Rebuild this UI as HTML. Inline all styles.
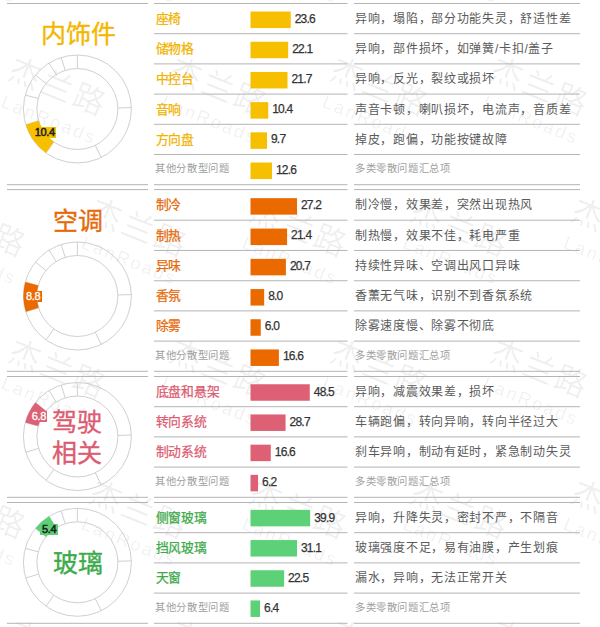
<!DOCTYPE html>
<html lang="zh-CN"><head><meta charset="utf-8"><style>
html,body{margin:0;padding:0;background:#fff;width:600px;height:627px;overflow:hidden}
body{position:relative;font-family:"Liberation Sans",sans-serif}
svg{position:absolute;left:0;top:0}
div{position:absolute;white-space:nowrap}
.n{left:155.8px;font-size:12.8px;letter-spacing:-0.3px;line-height:18px;-webkit-text-stroke:0.25px currentColor}
.d{left:355px;font-size:12px;letter-spacing:0.72px;line-height:18px;color:#5a5a5a}
.s{font-size:10.3px;letter-spacing:0.6px;line-height:16px;color:#a0a0a0;-webkit-text-stroke:0}
.v{font-size:12px;line-height:14px;color:#333;-webkit-text-stroke:0.25px #333;letter-spacing:-0.8px}
.lb{font-size:11px;line-height:11.5px;text-align:center;letter-spacing:-0.3px;-webkit-text-stroke:0.3px currentColor}
.t{font-size:25px;letter-spacing:0px;line-height:30.5px;-webkit-text-stroke:0.35px currentColor}
</style></head><body>
<svg width="600" height="627" viewBox="0 0 600 627"><g fill="#000" fill-opacity="0.068"><g transform="translate(-54.3,-66.8) rotate(22)"><text x="-16.5" y="11.5" font-size="32" letter-spacing="2.5">杰兰路</text><text x="-12" y="40" font-size="18" letter-spacing="2.4" font-family="Liberation Sans">LanRoads</text></g><g transform="translate(106.3,-66.8) rotate(22)"><text x="-16.5" y="11.5" font-size="32" letter-spacing="2.5">杰兰路</text><text x="-12" y="40" font-size="18" letter-spacing="2.4" font-family="Liberation Sans">LanRoads</text></g><g transform="translate(267.0,-66.8) rotate(22)"><text x="-16.5" y="11.5" font-size="32" letter-spacing="2.5">杰兰路</text><text x="-12" y="40" font-size="18" letter-spacing="2.4" font-family="Liberation Sans">LanRoads</text></g><g transform="translate(427.8,-66.8) rotate(22)"><text x="-16.5" y="11.5" font-size="32" letter-spacing="2.5">杰兰路</text><text x="-12" y="40" font-size="18" letter-spacing="2.4" font-family="Liberation Sans">LanRoads</text></g><g transform="translate(588.4,-66.8) rotate(22)"><text x="-16.5" y="11.5" font-size="32" letter-spacing="2.5">杰兰路</text><text x="-12" y="40" font-size="18" letter-spacing="2.4" font-family="Liberation Sans">LanRoads</text></g><g transform="translate(26.0,74.0) rotate(22)"><text x="-16.5" y="11.5" font-size="32" letter-spacing="2.5">杰兰路</text><text x="-12" y="40" font-size="18" letter-spacing="2.4" font-family="Liberation Sans">LanRoads</text></g><g transform="translate(186.7,74.0) rotate(22)"><text x="-16.5" y="11.5" font-size="32" letter-spacing="2.5">杰兰路</text><text x="-12" y="40" font-size="18" letter-spacing="2.4" font-family="Liberation Sans">LanRoads</text></g><g transform="translate(347.4,74.0) rotate(22)"><text x="-16.5" y="11.5" font-size="32" letter-spacing="2.5">杰兰路</text><text x="-12" y="40" font-size="18" letter-spacing="2.4" font-family="Liberation Sans">LanRoads</text></g><g transform="translate(508.1,74.0) rotate(22)"><text x="-16.5" y="11.5" font-size="32" letter-spacing="2.5">杰兰路</text><text x="-12" y="40" font-size="18" letter-spacing="2.4" font-family="Liberation Sans">LanRoads</text></g><g transform="translate(-54.3,214.8) rotate(22)"><text x="-16.5" y="11.5" font-size="32" letter-spacing="2.5">杰兰路</text><text x="-12" y="40" font-size="18" letter-spacing="2.4" font-family="Liberation Sans">LanRoads</text></g><g transform="translate(106.3,214.8) rotate(22)"><text x="-16.5" y="11.5" font-size="32" letter-spacing="2.5">杰兰路</text><text x="-12" y="40" font-size="18" letter-spacing="2.4" font-family="Liberation Sans">LanRoads</text></g><g transform="translate(267.0,214.8) rotate(22)"><text x="-16.5" y="11.5" font-size="32" letter-spacing="2.5">杰兰路</text><text x="-12" y="40" font-size="18" letter-spacing="2.4" font-family="Liberation Sans">LanRoads</text></g><g transform="translate(427.8,214.8) rotate(22)"><text x="-16.5" y="11.5" font-size="32" letter-spacing="2.5">杰兰路</text><text x="-12" y="40" font-size="18" letter-spacing="2.4" font-family="Liberation Sans">LanRoads</text></g><g transform="translate(588.4,214.8) rotate(22)"><text x="-16.5" y="11.5" font-size="32" letter-spacing="2.5">杰兰路</text><text x="-12" y="40" font-size="18" letter-spacing="2.4" font-family="Liberation Sans">LanRoads</text></g><g transform="translate(26.0,355.5) rotate(22)"><text x="-16.5" y="11.5" font-size="32" letter-spacing="2.5">杰兰路</text><text x="-12" y="40" font-size="18" letter-spacing="2.4" font-family="Liberation Sans">LanRoads</text></g><g transform="translate(186.7,355.5) rotate(22)"><text x="-16.5" y="11.5" font-size="32" letter-spacing="2.5">杰兰路</text><text x="-12" y="40" font-size="18" letter-spacing="2.4" font-family="Liberation Sans">LanRoads</text></g><g transform="translate(347.4,355.5) rotate(22)"><text x="-16.5" y="11.5" font-size="32" letter-spacing="2.5">杰兰路</text><text x="-12" y="40" font-size="18" letter-spacing="2.4" font-family="Liberation Sans">LanRoads</text></g><g transform="translate(508.1,355.5) rotate(22)"><text x="-16.5" y="11.5" font-size="32" letter-spacing="2.5">杰兰路</text><text x="-12" y="40" font-size="18" letter-spacing="2.4" font-family="Liberation Sans">LanRoads</text></g><g transform="translate(-54.3,496.2) rotate(22)"><text x="-16.5" y="11.5" font-size="32" letter-spacing="2.5">杰兰路</text><text x="-12" y="40" font-size="18" letter-spacing="2.4" font-family="Liberation Sans">LanRoads</text></g><g transform="translate(106.3,496.2) rotate(22)"><text x="-16.5" y="11.5" font-size="32" letter-spacing="2.5">杰兰路</text><text x="-12" y="40" font-size="18" letter-spacing="2.4" font-family="Liberation Sans">LanRoads</text></g><g transform="translate(267.0,496.2) rotate(22)"><text x="-16.5" y="11.5" font-size="32" letter-spacing="2.5">杰兰路</text><text x="-12" y="40" font-size="18" letter-spacing="2.4" font-family="Liberation Sans">LanRoads</text></g><g transform="translate(427.8,496.2) rotate(22)"><text x="-16.5" y="11.5" font-size="32" letter-spacing="2.5">杰兰路</text><text x="-12" y="40" font-size="18" letter-spacing="2.4" font-family="Liberation Sans">LanRoads</text></g><g transform="translate(588.4,496.2) rotate(22)"><text x="-16.5" y="11.5" font-size="32" letter-spacing="2.5">杰兰路</text><text x="-12" y="40" font-size="18" letter-spacing="2.4" font-family="Liberation Sans">LanRoads</text></g><g transform="translate(26.0,637.0) rotate(22)"><text x="-16.5" y="11.5" font-size="32" letter-spacing="2.5">杰兰路</text><text x="-12" y="40" font-size="18" letter-spacing="2.4" font-family="Liberation Sans">LanRoads</text></g><g transform="translate(186.7,637.0) rotate(22)"><text x="-16.5" y="11.5" font-size="32" letter-spacing="2.5">杰兰路</text><text x="-12" y="40" font-size="18" letter-spacing="2.4" font-family="Liberation Sans">LanRoads</text></g><g transform="translate(347.4,637.0) rotate(22)"><text x="-16.5" y="11.5" font-size="32" letter-spacing="2.5">杰兰路</text><text x="-12" y="40" font-size="18" letter-spacing="2.4" font-family="Liberation Sans">LanRoads</text></g><g transform="translate(508.1,637.0) rotate(22)"><text x="-16.5" y="11.5" font-size="32" letter-spacing="2.5">杰兰路</text><text x="-12" y="40" font-size="18" letter-spacing="2.4" font-family="Liberation Sans">LanRoads</text></g></g><line x1="7" y1="3.50" x2="148" y2="3.50" stroke="#b4b4b4" stroke-width="1"/><line x1="154" y1="3.50" x2="347.5" y2="3.50" stroke="#b4b4b4" stroke-width="1"/><line x1="354" y1="3.50" x2="580" y2="3.50" stroke="#b4b4b4" stroke-width="1"/><line x1="154" y1="33.70" x2="347.5" y2="33.70" stroke="#b4b4b4" stroke-width="1"/><line x1="354" y1="33.70" x2="580" y2="33.70" stroke="#b4b4b4" stroke-width="1"/><line x1="154" y1="63.90" x2="347.5" y2="63.90" stroke="#b4b4b4" stroke-width="1"/><line x1="354" y1="63.90" x2="580" y2="63.90" stroke="#b4b4b4" stroke-width="1"/><line x1="154" y1="94.10" x2="347.5" y2="94.10" stroke="#b4b4b4" stroke-width="1"/><line x1="354" y1="94.10" x2="580" y2="94.10" stroke="#b4b4b4" stroke-width="1"/><line x1="154" y1="124.30" x2="347.5" y2="124.30" stroke="#b4b4b4" stroke-width="1"/><line x1="354" y1="124.30" x2="580" y2="124.30" stroke="#b4b4b4" stroke-width="1"/><line x1="154" y1="154.50" x2="347.5" y2="154.50" stroke="#b4b4b4" stroke-width="1"/><line x1="354" y1="154.50" x2="580" y2="154.50" stroke="#b4b4b4" stroke-width="1"/><line x1="7" y1="184.70" x2="148" y2="184.70" stroke="#b4b4b4" stroke-width="1"/><line x1="154" y1="184.70" x2="347.5" y2="184.70" stroke="#b4b4b4" stroke-width="1"/><line x1="354" y1="184.70" x2="580" y2="184.70" stroke="#b4b4b4" stroke-width="1"/><rect x="250.5" y="11.55" width="40.24" height="16.5" fill="#F6BF00"/><rect x="250.5" y="41.75" width="37.68" height="16.5" fill="#F6BF00"/><rect x="250.5" y="71.95" width="37.00" height="16.5" fill="#F6BF00"/><rect x="250.5" y="102.15" width="17.73" height="16.5" fill="#F6BF00"/><rect x="250.5" y="132.35" width="16.54" height="16.5" fill="#F6BF00"/><rect x="250.5" y="162.55" width="21.48" height="16.5" fill="#F6BF00"/><circle cx="77.4" cy="109.00" r="54" fill="none" stroke="#d0d0d0" stroke-width="1"/><circle cx="77.4" cy="109.00" r="40.5" fill="none" stroke="#d0d0d0" stroke-width="1"/><line x1="77.40" y1="68.50" x2="77.40" y2="55.00" stroke="#d0d0d0" stroke-width="1"/><line x1="117.89" y1="107.94" x2="131.38" y2="107.59" stroke="#d0d0d0" stroke-width="1"/><line x1="95.28" y1="145.34" x2="101.24" y2="157.45" stroke="#d0d0d0" stroke-width="1"/><line x1="53.82" y1="141.93" x2="45.97" y2="152.91" stroke="#d0d0d0" stroke-width="1"/><line x1="38.67" y1="120.84" x2="25.76" y2="124.79" stroke="#d0d0d0" stroke-width="1"/><line x1="38.28" y1="98.52" x2="25.24" y2="95.02" stroke="#d0d0d0" stroke-width="1"/><line x1="45.93" y1="83.51" x2="35.43" y2="75.02" stroke="#d0d0d0" stroke-width="1"/><line x1="56.18" y1="74.51" x2="49.10" y2="63.01" stroke="#d0d0d0" stroke-width="1"/><line x1="65.22" y1="70.37" x2="61.16" y2="57.50" stroke="#d0d0d0" stroke-width="1"/><path d="M45.97,152.91 A54,54 0 0 1 25.76,124.79 L38.67,120.84 A40.5,40.5 0 0 0 53.82,141.93 Z" fill="#F6BF00"/><line x1="7" y1="189.60" x2="148" y2="189.60" stroke="#b4b4b4" stroke-width="1"/><line x1="154" y1="189.60" x2="347.5" y2="189.60" stroke="#b4b4b4" stroke-width="1"/><line x1="354" y1="189.60" x2="580" y2="189.60" stroke="#b4b4b4" stroke-width="1"/><line x1="154" y1="220.20" x2="347.5" y2="220.20" stroke="#b4b4b4" stroke-width="1"/><line x1="354" y1="220.20" x2="580" y2="220.20" stroke="#b4b4b4" stroke-width="1"/><line x1="154" y1="250.45" x2="347.5" y2="250.45" stroke="#b4b4b4" stroke-width="1"/><line x1="354" y1="250.45" x2="580" y2="250.45" stroke="#b4b4b4" stroke-width="1"/><line x1="154" y1="280.75" x2="347.5" y2="280.75" stroke="#b4b4b4" stroke-width="1"/><line x1="354" y1="280.75" x2="580" y2="280.75" stroke="#b4b4b4" stroke-width="1"/><line x1="154" y1="310.90" x2="347.5" y2="310.90" stroke="#b4b4b4" stroke-width="1"/><line x1="354" y1="310.90" x2="580" y2="310.90" stroke="#b4b4b4" stroke-width="1"/><line x1="154" y1="341.10" x2="347.5" y2="341.10" stroke="#b4b4b4" stroke-width="1"/><line x1="354" y1="341.10" x2="580" y2="341.10" stroke="#b4b4b4" stroke-width="1"/><line x1="7" y1="371.30" x2="148" y2="371.30" stroke="#b4b4b4" stroke-width="1"/><line x1="154" y1="371.30" x2="347.5" y2="371.30" stroke="#b4b4b4" stroke-width="1"/><line x1="354" y1="371.30" x2="580" y2="371.30" stroke="#b4b4b4" stroke-width="1"/><rect x="250.5" y="198.15" width="46.51" height="16.5" fill="#EB6A00"/><rect x="250.5" y="228.57" width="36.59" height="16.5" fill="#EB6A00"/><rect x="250.5" y="258.85" width="35.40" height="16.5" fill="#EB6A00"/><rect x="250.5" y="289.07" width="13.68" height="16.5" fill="#EB6A00"/><rect x="250.5" y="319.25" width="10.26" height="16.5" fill="#EB6A00"/><rect x="250.5" y="349.45" width="28.39" height="16.5" fill="#EB6A00"/><circle cx="77.4" cy="296.00" r="54" fill="none" stroke="#d0d0d0" stroke-width="1"/><circle cx="77.4" cy="296.00" r="40.5" fill="none" stroke="#d0d0d0" stroke-width="1"/><line x1="77.40" y1="255.50" x2="77.40" y2="242.00" stroke="#d0d0d0" stroke-width="1"/><line x1="117.89" y1="294.94" x2="131.38" y2="294.59" stroke="#d0d0d0" stroke-width="1"/><line x1="95.28" y1="332.34" x2="101.24" y2="344.45" stroke="#d0d0d0" stroke-width="1"/><line x1="53.82" y1="328.93" x2="45.97" y2="339.91" stroke="#d0d0d0" stroke-width="1"/><line x1="38.67" y1="307.84" x2="25.76" y2="311.79" stroke="#d0d0d0" stroke-width="1"/><line x1="38.28" y1="285.52" x2="25.24" y2="282.02" stroke="#d0d0d0" stroke-width="1"/><line x1="45.93" y1="270.51" x2="35.43" y2="262.02" stroke="#d0d0d0" stroke-width="1"/><line x1="56.18" y1="261.51" x2="49.10" y2="250.01" stroke="#d0d0d0" stroke-width="1"/><line x1="65.22" y1="257.37" x2="61.16" y2="244.50" stroke="#d0d0d0" stroke-width="1"/><path d="M25.76,311.79 A54,54 0 0 1 25.24,282.02 L38.28,285.52 A40.5,40.5 0 0 0 38.67,307.84 Z" fill="#EB6A00"/><line x1="7" y1="376.50" x2="148" y2="376.50" stroke="#b4b4b4" stroke-width="1"/><line x1="154" y1="376.50" x2="347.5" y2="376.50" stroke="#b4b4b4" stroke-width="1"/><line x1="354" y1="376.50" x2="580" y2="376.50" stroke="#b4b4b4" stroke-width="1"/><line x1="154" y1="406.70" x2="347.5" y2="406.70" stroke="#b4b4b4" stroke-width="1"/><line x1="354" y1="406.70" x2="580" y2="406.70" stroke="#b4b4b4" stroke-width="1"/><line x1="154" y1="436.90" x2="347.5" y2="436.90" stroke="#b4b4b4" stroke-width="1"/><line x1="354" y1="436.90" x2="580" y2="436.90" stroke="#b4b4b4" stroke-width="1"/><line x1="154" y1="467.10" x2="347.5" y2="467.10" stroke="#b4b4b4" stroke-width="1"/><line x1="354" y1="467.10" x2="580" y2="467.10" stroke="#b4b4b4" stroke-width="1"/><line x1="7" y1="497.30" x2="148" y2="497.30" stroke="#b4b4b4" stroke-width="1"/><line x1="154" y1="497.30" x2="347.5" y2="497.30" stroke="#b4b4b4" stroke-width="1"/><line x1="354" y1="497.30" x2="580" y2="497.30" stroke="#b4b4b4" stroke-width="1"/><rect x="250.5" y="384.25" width="59.27" height="16.5" fill="#DE6074"/><rect x="250.5" y="414.45" width="35.07" height="16.5" fill="#DE6074"/><rect x="250.5" y="444.65" width="20.29" height="16.5" fill="#DE6074"/><rect x="250.5" y="474.85" width="7.58" height="16.5" fill="#DE6074"/><circle cx="77.4" cy="436.50" r="54" fill="none" stroke="#d0d0d0" stroke-width="1"/><circle cx="77.4" cy="436.50" r="40.5" fill="none" stroke="#d0d0d0" stroke-width="1"/><line x1="77.40" y1="396.00" x2="77.40" y2="382.50" stroke="#d0d0d0" stroke-width="1"/><line x1="117.89" y1="435.44" x2="131.38" y2="435.09" stroke="#d0d0d0" stroke-width="1"/><line x1="95.28" y1="472.84" x2="101.24" y2="484.95" stroke="#d0d0d0" stroke-width="1"/><line x1="53.82" y1="469.43" x2="45.97" y2="480.41" stroke="#d0d0d0" stroke-width="1"/><line x1="38.67" y1="448.34" x2="25.76" y2="452.29" stroke="#d0d0d0" stroke-width="1"/><line x1="38.28" y1="426.02" x2="25.24" y2="422.52" stroke="#d0d0d0" stroke-width="1"/><line x1="45.93" y1="411.01" x2="35.43" y2="402.52" stroke="#d0d0d0" stroke-width="1"/><line x1="56.18" y1="402.01" x2="49.10" y2="390.51" stroke="#d0d0d0" stroke-width="1"/><line x1="65.22" y1="397.87" x2="61.16" y2="385.00" stroke="#d0d0d0" stroke-width="1"/><path d="M25.24,422.52 A54,54 0 0 1 35.43,402.52 L45.93,411.01 A40.5,40.5 0 0 0 38.28,426.02 Z" fill="#DE6074"/><line x1="7" y1="502.50" x2="148" y2="502.50" stroke="#b4b4b4" stroke-width="1"/><line x1="154" y1="502.50" x2="347.5" y2="502.50" stroke="#b4b4b4" stroke-width="1"/><line x1="354" y1="502.50" x2="580" y2="502.50" stroke="#b4b4b4" stroke-width="1"/><line x1="154" y1="532.70" x2="347.5" y2="532.70" stroke="#b4b4b4" stroke-width="1"/><line x1="354" y1="532.70" x2="580" y2="532.70" stroke="#b4b4b4" stroke-width="1"/><line x1="154" y1="562.90" x2="347.5" y2="562.90" stroke="#b4b4b4" stroke-width="1"/><line x1="354" y1="562.90" x2="580" y2="562.90" stroke="#b4b4b4" stroke-width="1"/><line x1="154" y1="593.10" x2="347.5" y2="593.10" stroke="#b4b4b4" stroke-width="1"/><line x1="354" y1="593.10" x2="580" y2="593.10" stroke="#b4b4b4" stroke-width="1"/><line x1="7" y1="623.30" x2="148" y2="623.30" stroke="#b4b4b4" stroke-width="1"/><line x1="154" y1="623.30" x2="347.5" y2="623.30" stroke="#b4b4b4" stroke-width="1"/><line x1="354" y1="623.30" x2="580" y2="623.30" stroke="#b4b4b4" stroke-width="1"/><rect x="250.5" y="509.85" width="59.65" height="16.5" fill="#5CD177"/><rect x="250.5" y="540.05" width="46.49" height="16.5" fill="#5CD177"/><rect x="250.5" y="570.25" width="33.64" height="16.5" fill="#5CD177"/><rect x="250.5" y="600.45" width="9.57" height="16.5" fill="#5CD177"/><circle cx="77.4" cy="562.30" r="54" fill="none" stroke="#d0d0d0" stroke-width="1"/><circle cx="77.4" cy="562.30" r="40.5" fill="none" stroke="#d0d0d0" stroke-width="1"/><line x1="77.40" y1="521.80" x2="77.40" y2="508.30" stroke="#d0d0d0" stroke-width="1"/><line x1="117.89" y1="561.24" x2="131.38" y2="560.89" stroke="#d0d0d0" stroke-width="1"/><line x1="95.28" y1="598.64" x2="101.24" y2="610.75" stroke="#d0d0d0" stroke-width="1"/><line x1="53.82" y1="595.23" x2="45.97" y2="606.21" stroke="#d0d0d0" stroke-width="1"/><line x1="38.67" y1="574.14" x2="25.76" y2="578.09" stroke="#d0d0d0" stroke-width="1"/><line x1="38.28" y1="551.82" x2="25.24" y2="548.32" stroke="#d0d0d0" stroke-width="1"/><line x1="45.93" y1="536.81" x2="35.43" y2="528.32" stroke="#d0d0d0" stroke-width="1"/><line x1="56.18" y1="527.81" x2="49.10" y2="516.31" stroke="#d0d0d0" stroke-width="1"/><line x1="65.22" y1="523.67" x2="61.16" y2="510.80" stroke="#d0d0d0" stroke-width="1"/><path d="M35.43,528.32 A54,54 0 0 1 49.10,516.31 L56.18,527.81 A40.5,40.5 0 0 0 45.93,536.81 Z" fill="#5CD177"/></svg>
<div class="v" style="left:294.7px;top:11.6px">23.6</div>
<div class="n" style="top:9.9px;color:#F2B300">座椅</div>
<div class="d" style="top:10.00px">异响，塌陷，部分功能失灵，舒适性差</div>
<div class="v" style="left:292.2px;top:41.8px">22.1</div>
<div class="n" style="top:40.1px;color:#F2B300">储物格</div>
<div class="d" style="top:40.20px">异响，部件损坏，如弹簧/卡扣/盖子</div>
<div class="v" style="left:291.5px;top:72.0px">21.7</div>
<div class="n" style="top:70.3px;color:#F2B300">中控台</div>
<div class="d" style="top:70.40px">异响，反光，裂纹或损坏</div>
<div class="v" style="left:272.2px;top:102.2px">10.4</div>
<div class="n" style="top:100.5px;color:#F2B300">音响</div>
<div class="d" style="top:100.60px">声音卡顿，喇叭损坏，电流声，音质差</div>
<div class="v" style="left:271.0px;top:132.4px">9.7</div>
<div class="n" style="top:130.7px;color:#F2B300">方向盘</div>
<div class="d" style="top:130.80px">掉皮，跑偏，功能按键故障</div>
<div class="v" style="left:276.0px;top:162.6px">12.6</div>
<div class="n s" style="left:155.3px;top:161.2px">其他分散型问题</div>
<div class="d s" style="top:161.2px">多类零散问题汇总项</div>
<div class="v" style="left:301.0px;top:197.9px">27.2</div>
<div class="n" style="top:196.2px;color:#E66A0A">制冷</div>
<div class="d" style="top:196.30px">制冷慢，效果差，突然出现热风</div>
<div class="v" style="left:291.1px;top:228.3px">21.4</div>
<div class="n" style="top:226.6px;color:#E66A0A">制热</div>
<div class="d" style="top:226.72px">制热慢，效果不佳，耗电严重</div>
<div class="v" style="left:289.9px;top:258.6px">20.7</div>
<div class="n" style="top:256.9px;color:#E66A0A">异味</div>
<div class="d" style="top:257.00px">持续性异味、空调出风口异味</div>
<div class="v" style="left:268.2px;top:288.8px">8.0</div>
<div class="n" style="top:287.1px;color:#E66A0A">香氛</div>
<div class="d" style="top:287.22px">香薰无气味，识别不到香氛系统</div>
<div class="v" style="left:264.8px;top:319.0px">6.0</div>
<div class="n" style="top:317.3px;color:#E66A0A">除雾</div>
<div class="d" style="top:317.40px">除雾速度慢、除雾不彻底</div>
<div class="v" style="left:282.9px;top:349.2px">16.6</div>
<div class="n s" style="left:155.3px;top:347.8px">其他分散型问题</div>
<div class="d s" style="top:347.8px">多类零散问题汇总项</div>
<div class="v" style="left:313.8px;top:384.6px">48.5</div>
<div class="n" style="top:382.9px;color:#DC5C71">底盘和悬架</div>
<div class="d" style="top:383.00px">异响，减震效果差，损坏</div>
<div class="v" style="left:289.6px;top:414.8px">28.7</div>
<div class="n" style="top:413.1px;color:#DC5C71">转向系统</div>
<div class="d" style="top:413.20px">车辆跑偏，转向异响，转向半径过大</div>
<div class="v" style="left:274.8px;top:445.0px">16.6</div>
<div class="n" style="top:443.3px;color:#DC5C71">制动系统</div>
<div class="d" style="top:443.40px">刹车异响，制动有延时，紧急制动失灵</div>
<div class="v" style="left:262.1px;top:475.2px">6.2</div>
<div class="n s" style="left:155.3px;top:473.8px">其他分散型问题</div>
<div class="d s" style="top:473.8px">多类零散问题汇总项</div>
<div class="v" style="left:314.2px;top:510.6px">39.9</div>
<div class="n" style="top:508.9px;color:#3DAA4A">侧窗玻璃</div>
<div class="d" style="top:509.00px">异响，升降失灵，密封不严，不隔音</div>
<div class="v" style="left:301.0px;top:540.8px">31.1</div>
<div class="n" style="top:539.1px;color:#3DAA4A">挡风玻璃</div>
<div class="d" style="top:539.20px">玻璃强度不足，易有油膜，产生划痕</div>
<div class="v" style="left:288.1px;top:571.0px">22.5</div>
<div class="n" style="top:569.3px;color:#3DAA4A">天窗</div>
<div class="d" style="top:569.40px">漏水，异响，无法正常开关</div>
<div class="v" style="left:264.1px;top:601.2px">6.4</div>
<div class="n s" style="left:155.3px;top:599.8px">其他分散型问题</div>
<div class="d s" style="top:599.8px">多类零散问题汇总项</div>
<div class="lb" style="left:33.3px;top:127.3px;width:23.0px;height:11.0px;background:#F6BF00;color:#222;-webkit-text-stroke:0.55px #222">10.4</div>
<div class="lb" style="left:24.3px;top:290.7px;width:17.7px;height:11.3px;background:#EB6A00;color:#fff;-webkit-text-stroke:0.3px #fff">8.8</div>
<div class="lb" style="left:30.7px;top:410.7px;width:16.6px;height:11.6px;background:#DE6074;color:#fff;-webkit-text-stroke:0.3px #fff">6.8</div>
<div class="lb" style="left:40.3px;top:524px;width:17.7px;height:11.3px;background:#5CD177;color:#222;-webkit-text-stroke:0.55px #222">5.4</div>
<div class="t" style="left:41px;top:19.25px;color:#F3B700">内饰件</div>
<div class="t" style="left:52.8px;top:205.75px;color:#E66A0A">空调</div>
<div class="t" style="left:52px;top:407.25px;color:#DC5C71">驾驶<br>相关</div>
<div class="t" style="left:53px;top:547.75px;color:#3DAA4A">玻璃</div>
</body></html>
